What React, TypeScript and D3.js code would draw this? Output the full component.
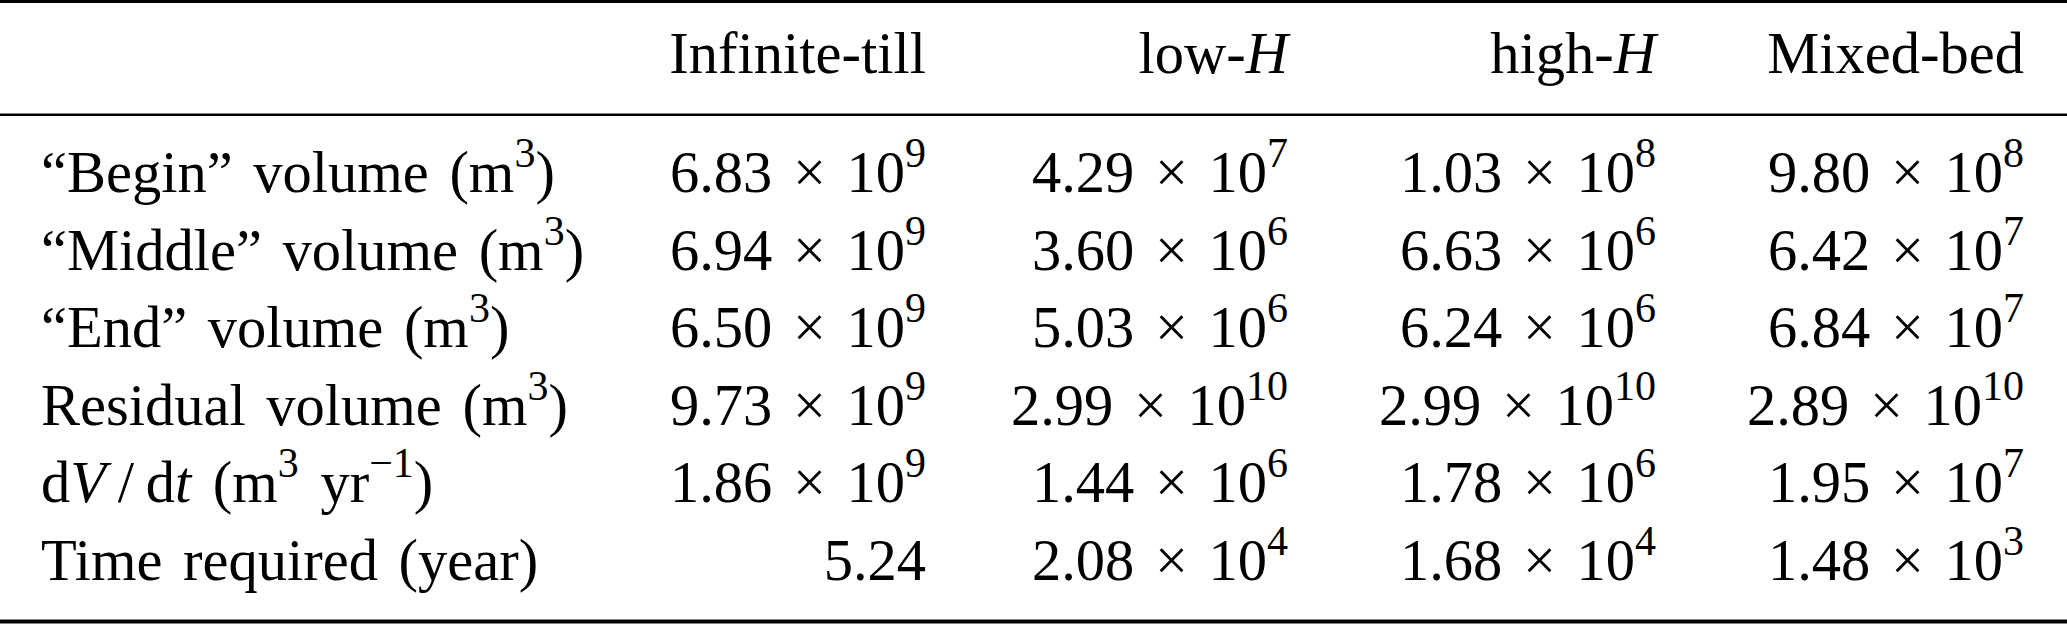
import { useEffect, useRef } from 'react';
import * as d3 from 'd3';

// Table content. Markup: *x* = italic, ^{x} = superscript.
const columns = ['Infinite-till', 'low-*H*', 'high-*H*', 'Mixed-bed'];
const rowLabels = [
  '“Begin” volume (m^{3})',
  '“Middle” volume (m^{3})',
  '“End” volume (m^{3})',
  'Residual volume (m^{3})',
  'd*V*\u2009/\u2009d*t* (m^{3} yr^{−1})',
  'Time required (year)',
];
const infiniteTill = [6.83e9, 6.94e9, 6.5e9, 9.73e9, 1.86e9, 5.24];
const lowH = [4.29e7, 3.6e6, 5.03e6, 2.99e10, 1.44e6, 2.08e4];
const highH = [1.03e8, 6.63e6, 6.24e6, 2.99e10, 1.78e6, 1.68e4];
const mixedBed = [9.8e8, 6.42e7, 6.84e7, 2.89e10, 1.95e7, 1.48e3];

const series = [infiniteTill, lowH, highH, mixedBed];

interface Segment {
  text: string;
  italic: boolean;
  sup: boolean;
}

function parse(markup: string): Segment[] {
  const out: Segment[] = [];
  const re = /(\^\{[^}]*\}|\*[^*]*\*|[^^*]+)/g;
  let m: RegExpExecArray | null;
  while ((m = re.exec(markup))) {
    const t = m[0];
    if (t.startsWith('^{')) out.push({ text: t.slice(2, -1), italic: false, sup: true });
    else if (t.startsWith('*')) out.push({ text: t.slice(1, -1), italic: true, sup: false });
    else out.push({ text: t, italic: false, sup: false });
  }
  return out;
}

// scientific notation as "m.mm × 10^{e}", small numbers stay plain
function sci(v: number): string {
  if (v < 10) return v.toFixed(2);
  let e = Math.floor(Math.log10(v));
  let mant = v / Math.pow(10, e);
  if (mant >= 9.995) {
    e += 1;
    mant /= 10;
  }
  return `${mant.toFixed(2)} × 10^{${e}}`;
}

const W = 2067;
const H = 624;
const FONT = 58.5;
const SUP_FONT = 42;
const SUP_RAISE = 25;

export default function App() {
  const ref = useRef<SVGSVGElement>(null);

  useEffect(() => {
    if (!ref.current) return;
    const svg = d3.select(ref.current);
    svg.selectAll('*').remove();

    const colRight = d3
      .scaleOrdinal<string, number>()
      .domain(columns)
      .range([926, 1288, 1656, 2024]);

    const rowY = d3
      .scaleLinear()
      .domain([0, rowLabels.length - 1])
      .range([192, 580]);

    const headerY = 73;
    const labelX = 41;

    const g = svg
      .append('g')
      .attr('font-family', "'Liberation Serif', 'Times New Roman', serif")
      .attr('font-size', FONT)
      .attr('fill', '#000');

    const writeRich = (
      sel: d3.Selection<SVGTextElement, unknown, null, undefined>,
      segs: Segment[]
    ) => {
      let raised = false;
      segs.forEach((s) => {
        const t = sel.append('tspan').text(s.text);
        if (s.italic) t.attr('font-style', 'italic');
        if (s.sup) {
          t.attr('font-size', SUP_FONT);
          if (!raised) t.attr('dy', -SUP_RAISE);
          raised = true;
        } else if (raised) {
          t.attr('dy', SUP_RAISE);
          raised = false;
        }
      });
    };

    const addText = (x: number, y: number, anchor: string, markup: string, wordSpacing = 0) => {
      const t = g
        .append('text')
        .attr('x', x)
        .attr('y', y)
        .attr('text-anchor', anchor)
        .attr('word-spacing', wordSpacing)
        .style('white-space', 'pre');
      writeRich(t as any, parse(markup));
    };

    // header
    columns.forEach((c) => addText(colRight(c), headerY, 'end', c));

    // body
    rowLabels.forEach((label, i) => {
      addText(labelX, rowY(i), 'start', label, i === 4 ? 7 : 6);
      columns.forEach((c, j) => addText(colRight(c), rowY(i), 'end', sci(series[j][i]), 6));
    });

    // booktabs rules
    const rules = [
      { y: 1.5, w: 3 },
      { y: 114.8, w: 2.6 },
      { y: 621.5, w: 4 },
    ];
    svg
      .selectAll('line.rule')
      .data(rules)
      .enter()
      .append('line')
      .attr('class', 'rule')
      .attr('x1', 0)
      .attr('x2', W)
      .attr('y1', (d) => d.y)
      .attr('y2', (d) => d.y)
      .attr('stroke', '#000')
      .attr('stroke-width', (d) => d.w);
  }, []);

  return (
    <svg
      ref={ref}
      width={W}
      height={H}
      style={{ position: 'absolute', left: 0, top: 0, display: 'block', background: '#fff' }}
    />
  );
}
